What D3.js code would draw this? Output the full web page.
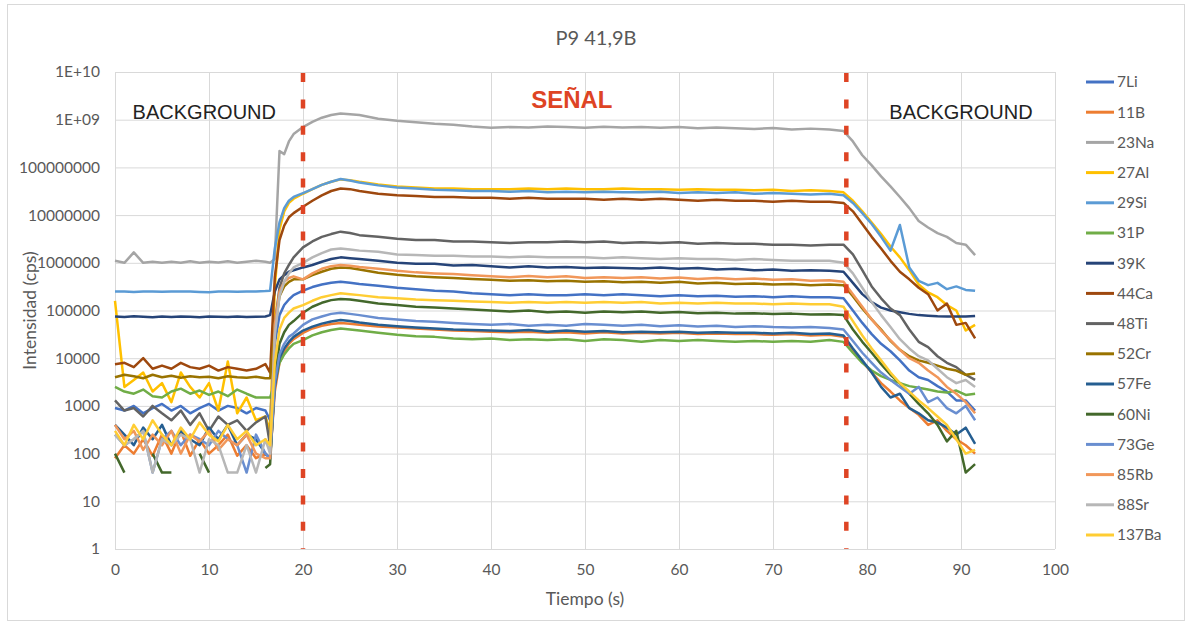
<!DOCTYPE html>
<html>
<head>
<meta charset="utf-8">
<script src="https://cdn.jsdelivr.net/npm/d3@7/dist/d3.min.js"></script>
<style>
  body { margin: 0; background: #fff; }
  svg { display: block; }
</style>
</head>
<body>
<svg id="chart" width="1192" height="627"></svg>
<script>
// time axis (s) shared by all series
const times = [0,1,2,3,4,5,6,7,8,9,10,11,12,13,14,15,16,16.5,17,17.5,18,18.5,19,20,21,22,23,24,25,26,
  28,30,32,34,36,38,40,42,44,46,48,50,52,54,56,58,60,62,64,66,68,70,72,74,76,
  77.5,78.5,79.5,80.5,81.5,82.5,83.5,84.5,85.5,86.5,87.5,88.5,89.5,90.5,91.5];

// intensities (cps), one array per isotope
const li7 = [900,800,1000,700,900,1100,800,1000,700,900,1100,800,1000,900,700,900,800,
  500,2e4,8e4,1.3e5,1.7e5,2.1e5,
  2.6e5,3.1e5,3.5e5,3.8e5,4e5,3.8e5,3.6e5,
  3.3e5,3e5,2.8e5,2.6e5,2.5e5,2.3e5,2.2e5,2.1e5,2.2e5,2.1e5,2.1e5,2.2e5,2.1e5,2.2e5,2.1e5,2e5,2.1e5,2e5,2.05e5,1.95e5,2e5,1.9e5,2e5,1.9e5,1.9e5,
  1.8e5,1e5,5.5e4,3.2e4,2e4,1.4e4,9000,5500,4000,3500,2600,2000,1300,1300,800];
const b11 = [80,150,100,200,90,250,100,300,90,200,100,150,250,90,150,80,100,
  80,2000,8000,1.4e4,2e4,2.5e4,
  3.4e4,4.2e4,4.8e4,5.2e4,5.5e4,5.3e4,5e4,
  4.6e4,4.4e4,4.2e4,4e4,3.8e4,3.7e4,3.6e4,3.5e4,3.6e4,3.4e4,3.5e4,3.3e4,3.5e4,3.3e4,3.4e4,3.3e4,3.4e4,3.2e4,3.3e4,3.2e4,3.2e4,3.1e4,3.2e4,3e4,3.1e4,
  2.8e4,1.5e4,8500,5000,3000,2000,1300,900,650,400,500,300,200,150,100];
const na23 = [1.1e6,1.0e6,1.65e6,1.0e6,1.05e6,1.0e6,1.05e6,1.0e6,1.08e6,1.0e6,1.05e6,1.02e6,1.08e6,1.0e6,1.05e6,1.1e6,1.05e6,
  1.0e6,1.2e6,2.2e8,1.9e8,3.5e8,5e8,
  7e8,9e8,1.1e9,1.25e9,1.35e9,1.3e9,1.25e9,
  1.05e9,9.5e8,8.8e8,8.2e8,7.8e8,7.2e8,6.8e8,7e8,6.9e8,7.2e8,7e8,6.8e8,7.1e8,6.9e8,7e8,6.8e8,7e8,6.6e8,6.9e8,6.6e8,6.4e8,6.7e8,6.2e8,6.5e8,6.2e8,
  5.8e8,3.5e8,1.8e8,1.1e8,6.5e7,4e7,2.4e7,1.4e7,7.5e6,5.5e6,4.2e6,3.5e6,2.6e6,2.4e6,1.45e6];
const al27 = [1.6e5,2500,3500,5000,2000,3000,1200,5000,2500,1500,3000,800,8500,700,1500,500,600,
  300,3e5,5e6,1.2e7,1.8e7,2.2e7,
  2.8e7,3.5e7,4.3e7,5e7,5.6e7,5.4e7,5e7,
  4.4e7,4e7,3.8e7,3.6e7,3.6e7,3.5e7,3.5e7,3.5e7,3.6e7,3.5e7,3.6e7,3.5e7,3.5e7,3.6e7,3.5e7,3.5e7,3.4e7,3.5e7,3.4e7,3.4e7,3.3e7,3.4e7,3.2e7,3.3e7,3.2e7,
  3e7,2e7,1.2e7,7e6,4e6,2.2e6,1.3e6,7e5,3.5e5,2.4e5,1.9e5,1.3e5,1e5,3.8e4,5e4];
const si29 = [2.5e5,2.5e5,2.45e5,2.5e5,2.5e5,2.48e5,2.5e5,2.5e5,2.5e5,2.45e5,2.4e5,2.5e5,2.5e5,2.48e5,2.5e5,2.5e5,2.55e5,
  2.6e5,2e6,7e6,1.4e7,2e7,2.4e7,
  2.9e7,3.5e7,4.3e7,5e7,5.7e7,5.3e7,4.8e7,
  4.2e7,3.8e7,3.6e7,3.4e7,3.3e7,3.2e7,3.2e7,3.1e7,3.2e7,3e7,3.1e7,3e7,3.1e7,3e7,3e7,3.1e7,2.9e7,3e7,2.9e7,3e7,2.8e7,2.9e7,2.8e7,2.7e7,2.8e7,
  2.6e7,1.8e7,1.1e7,6.5e6,3.5e6,1.8e6,6.2e6,8e5,4.2e5,3.4e5,3.8e5,2.8e5,3.2e5,2.7e5,2.6e5];
const p31 = [2500,2000,1800,2200,1600,1500,2000,2300,1800,2100,1700,2000,1600,2200,1800,1500,1500,
  1500,3000,8000,1.2e4,1.6e4,2e4,
  2.4e4,3e4,3.5e4,3.9e4,4.2e4,4e4,3.8e4,
  3.4e4,3.1e4,2.9e4,2.8e4,2.6e4,2.5e4,2.6e4,2.4e4,2.5e4,2.4e4,2.5e4,2.3e4,2.5e4,2.4e4,2.2e4,2.4e4,2.3e4,2.4e4,2.3e4,2.2e4,2.3e4,2.2e4,2.3e4,2.2e4,2.4e4,
  2.2e4,1.3e4,8000,5500,4200,3500,3000,2600,2400,2200,2000,1900,2100,1700,1800];
const k39 = [7.5e4,7.3e4,7.6e4,7.4e4,7.2e4,7.5e4,7.3e4,7.5e4,7.4e4,7.2e4,7.5e4,7.4e4,7.3e4,7.5e4,7.3e4,7.4e4,7.5e4,
  8e4,2.5e5,4.5e5,5.5e5,6.5e5,7e5,
  8e5,9e5,1.05e6,1.2e6,1.3e6,1.25e6,1.2e6,
  1.1e6,1e6,9.5e5,9.5e5,8.8e5,9e5,8.5e5,8e5,8.5e5,8e5,8.2e5,7.8e5,8e5,7.8e5,7.6e5,8e5,7.5e5,7.8e5,7.2e5,7.5e5,7e5,7.2e5,6.8e5,7e5,6.8e5,
  6.5e5,3.8e5,2.2e5,1.5e5,1.15e5,1e5,9.2e4,8.5e4,8e4,7.8e4,7.6e4,7.5e4,7.5e4,7.5e4,7.7e4];
const ca44 = [7500,8000,6500,1e4,6000,7000,6000,8000,6500,6000,7000,5500,6500,6000,5500,6000,7500,
  5000,5e5,3e6,6e6,9e6,1.1e7,
  1.5e7,2e7,2.6e7,3.2e7,3.6e7,3.5e7,3.2e7,
  2.8e7,2.6e7,2.5e7,2.4e7,2.4e7,2.3e7,2.3e7,2.2e7,2.3e7,2.2e7,2.2e7,2.2e7,2.1e7,2.2e7,2.1e7,2.2e7,2.1e7,2e7,2.1e7,2e7,2e7,1.9e7,2e7,1.9e7,1.9e7,
  1.8e7,1.2e7,6.5e6,3.5e6,2e6,1.1e6,6.5e5,4.5e5,3e5,2.2e5,1e5,1.4e5,5e4,5.5e4,2.6e4];
const ti48 = [1300,800,900,600,1000,700,500,800,400,700,300,600,400,500,300,450,600,
  150,5e4,3e5,6e5,9e5,1.3e6,
  2.1e6,2.8e6,3.5e6,4e6,4.5e6,4.2e6,3.8e6,
  3.5e6,3.2e6,3e6,3e6,2.8e6,2.8e6,2.7e6,2.6e6,2.7e6,2.7e6,2.8e6,2.7e6,2.8e6,2.6e6,2.7e6,2.6e6,2.7e6,2.5e6,2.6e6,2.5e6,2.5e6,2.4e6,2.4e6,2.3e6,2.4e6,
  2.4e6,1.5e6,7e5,3.2e5,1.8e5,1.1e5,8e4,4e4,2.2e4,1.7e4,1.1e4,8000,6500,4500,3500];
const cr52 = [4000,4500,4200,3800,4500,4000,4300,3900,4200,4000,4100,3800,4200,4000,3900,4100,3800,
  3800,4e4,2e5,3.2e5,4e5,4.5e5,
  4.5e5,5.5e5,6.5e5,7.5e5,8e5,7.8e5,7.2e5,
  6.2e5,5.6e5,5.2e5,5e5,4.8e5,4.6e5,4.4e5,4.2e5,4.3e5,4.1e5,4.2e5,4e5,4.1e5,3.9e5,4e5,3.8e5,4e5,3.7e5,3.8e5,3.6e5,3.7e5,3.5e5,3.6e5,3.4e5,3.5e5,
  3.4e5,2e5,1.1e5,6.5e4,4e4,2.3e4,1.5e4,1.1e4,9000,8000,7000,6000,5500,4500,4800];
const fe57 = [400,250,150,350,200,400,150,300,200,150,350,200,400,150,250,200,100,
  80,2500,1e4,1.6e4,2.2e4,2.8e4,
  3.8e4,4.6e4,5.3e4,5.9e4,6.3e4,6e4,5.6e4,
  5e4,4.7e4,4.4e4,4.2e4,4e4,3.9e4,3.8e4,3.7e4,3.9e4,3.6e4,3.8e4,3.6e4,3.7e4,3.5e4,3.6e4,3.5e4,3.6e4,3.4e4,3.5e4,3.4e4,3.4e4,3.3e4,3.4e4,3.2e4,3.3e4,
  3e4,1.6e4,9000,5000,2500,1500,1800,900,700,500,450,350,250,350,160];
const ni60 = [100,40,null,null,100,40,40,null,null,100,40,null,null,null,null,null,50,
  60,4000,2e4,3.5e4,5e4,6e4,
  9e4,1.2e5,1.45e5,1.65e5,1.75e5,1.7e5,1.6e5,
  1.4e5,1.3e5,1.2e5,1.15e5,1.1e5,1.05e5,1e5,9.5e4,1e5,9.2e4,9.5e4,9e4,9.5e4,9.2e4,9.5e4,9e4,9.3e4,8.8e4,9e4,8.6e4,8.8e4,8.4e4,8.6e4,8.2e4,8.3e4,
  8e4,4e4,2.2e4,1.3e4,7500,4500,3000,1800,1100,700,400,180,300,40,60];
const ge73 = [250,150,200,300,40,200,300,150,250,200,150,300,200,150,40,250,100,
  80,3000,1.2e4,2e4,2.8e4,3.3e4,
  5e4,6.5e4,7.5e4,8.5e4,9e4,8.5e4,8e4,
  7e4,6.5e4,6e4,5.8e4,5.5e4,5.2e4,5e4,5.2e4,4.8e4,5e4,4.8e4,5.2e4,5e4,4.8e4,5e4,4.7e4,4.9e4,4.6e4,4.8e4,4.5e4,4.7e4,4.5e4,4.4e4,4.5e4,4.3e4,
  4e4,2.3e4,1.3e4,8000,5000,3500,2500,1800,2500,1200,1500,900,700,1000,500];
const rb85 = [400,200,300,120,250,150,300,100,250,180,300,120,200,150,250,100,80,
  80,5e4,2.5e5,4e5,4.8e5,5.2e5,
  4.5e5,6e5,7.5e5,8.5e5,9e5,8.7e5,8.2e5,
  7.5e5,6.8e5,6.3e5,6e5,5.8e5,5.5e5,5.2e5,5e5,5.3e5,5e5,5.2e5,4.8e5,5e5,4.8e5,5e5,4.7e5,4.9e5,4.6e5,4.8e5,4.5e5,4.7e5,4.4e5,4.5e5,4.2e5,4.3e5,
  4e5,2.2e5,1.2e5,6.5e4,3.8e4,2.4e4,1.5e4,1e4,8000,5500,4000,2500,1800,1200,700];
const sr88 = [250,150,200,300,40,200,150,250,200,40,200,150,40,40,150,40,200,
  100,3e4,2e5,4e5,6e5,8e5,
  1e6,1.3e6,1.6e6,1.9e6,2e6,1.9e6,1.8e6,
  1.7e6,1.5e6,1.45e6,1.4e6,1.4e6,1.35e6,1.35e6,1.3e6,1.35e6,1.3e6,1.3e6,1.3e6,1.25e6,1.3e6,1.25e6,1.2e6,1.25e6,1.2e6,1.2e6,1.15e6,1.2e6,1.15e6,1.1e6,1.1e6,1.1e6,
  1e6,6e5,3e5,1.5e5,8e4,4.5e4,2.5e4,1.6e4,1.1e4,9000,6000,4000,3000,3500,2500];
const ba137 = [300,150,400,200,500,250,150,350,200,450,250,180,400,200,300,150,200,
  150,8000,4e4,7e4,9e4,1.1e5,
  1.3e5,1.6e5,1.9e5,2.1e5,2.3e5,2.2e5,2.1e5,
  1.9e5,1.8e5,1.7e5,1.65e5,1.6e5,1.55e5,1.5e5,1.45e5,1.5e5,1.45e5,1.5e5,1.45e5,1.5e5,1.45e5,1.5e5,1.4e5,1.45e5,1.4e5,1.45e5,1.4e5,1.4e5,1.35e5,1.4e5,1.35e5,1.35e5,
  1.2e5,6e4,3e4,1.6e4,9000,5000,3000,2000,1300,900,600,400,200,100,120];

const names = ["7Li","11B","23Na","27Al","29Si","31P","39K","44Ca","48Ti","52Cr","57Fe","60Ni","73Ge","85Rb","88Sr","137Ba"];
const values = [li7,b11,na23,al27,si29,p31,k39,ca44,ti48,cr52,fe57,ni60,ge73,rb85,sr88,ba137];

const xTicks = [0,10,20,30,40,50,60,70,80,90,100];
const yTicks = [1,10,100,1000,1e4,1e5,1e6,1e7,1e8,1e9,1e10];
const yTickLabels = ["1","10","100","1000","10000","100000","1000000","10000000","100000000","1E+09","1E+10"];
const markers = [20, 77.8]; // start / end of the signal window

// Excel palette
const colors = ["#4472C4","#ED7D31","#A5A5A5","#FFC000","#5B9BD5","#70AD47","#264478","#9E480E",
  "#636363","#997300","#255E91","#43682B","#698ED0","#F1975A","#B7B7B7","#FFCD33"];

let svg = d3.select("#chart");
const W = 1192, H = 627;
const pLeft = 115, pRight = 1055, pTop = 72, pBottom = 549;

svg.append("rect")
  .attr("x", 7.5).attr("y", 4.5).attr("width", W - 15).attr("height", H - 11)
  .attr("fill", "#fff").attr("stroke", "#d9d9d9");

let x = d3.scaleLinear().domain([0, 100]).range([pLeft, pRight]);
let y = d3.scaleLog().domain([1, 1e10]).range([pBottom, pTop]);

// grid
svg.append("g")
  .attr("transform", `translate(0,${pBottom})`)
  .call(d3.axisBottom(x).tickValues(xTicks).tickSize(-(pBottom - pTop)).tickFormat(""))
  .call(g => g.select(".domain").remove())
  .call(g => g.selectAll("line").attr("stroke", "#d9d9d9"));
svg.append("g")
  .attr("transform", `translate(${pLeft},0)`)
  .call(d3.axisLeft(y).tickValues(yTicks).tickSize(-(pRight - pLeft)).tickFormat(""))
  .call(g => g.select(".domain").remove())
  .call(g => g.selectAll("line").attr("stroke", "#d9d9d9"));

// tick labels
svg.append("g")
  .attr("transform", `translate(${pLeft},0)`)
  .call(d3.axisLeft(y).tickValues(yTicks).tickSize(0).tickPadding(15)
    .tickFormat((d, i) => yTickLabels[i]))
  .call(g => g.select(".domain").remove())
  .call(g => g.selectAll("text").attr("fill", "#595959")
    .style("font-family", "Lato, sans-serif").style("font-size", "15.5px"));
svg.append("g")
  .attr("transform", `translate(0,${pBottom})`)
  .call(d3.axisBottom(x).tickValues(xTicks).tickSize(0).tickPadding(15))
  .call(g => g.select(".domain").remove())
  .call(g => g.selectAll("text").attr("fill", "#595959")
    .style("font-family", "Lato, sans-serif").style("font-size", "15.5px"));

// series lines
let line = d3.line()
  .defined(d => d[1] != null && d[1] > 0)
  .x(d => x(d[0]))
  .y(d => y(d[1]));

svg.append("g")
  .selectAll("path")
  .data(values)
  .enter().append("path")
  .attr("d", v => line(times.map((t, i) => [t, v[i]])))
  .attr("fill", "none")
  .attr("stroke", (v, i) => colors[i])
  .attr("stroke-width", 2.5)
  .attr("stroke-linejoin", "round");

// signal window markers
svg.append("g")
  .selectAll("line")
  .data(markers)
  .enter().append("line")
  .attr("x1", d => x(d)).attr("x2", d => x(d))
  .attr("y1", pTop + 1).attr("y2", pBottom)
  .attr("stroke", "#DE4424")
  .attr("stroke-width", 4.5)
  .attr("stroke-dasharray", "9,17.4");

// annotations
const ann = svg.append("g").style("font-family", "'Liberation Sans', Arial, sans-serif");
ann.append("text").attr("x", x(9.5)).attr("y", y(1e9) - 1).attr("text-anchor", "middle")
  .attr("fill", "#222").style("font-size", "20px").text("BACKGROUND");
ann.append("text").attr("x", x(90)).attr("y", y(1e9) - 1).attr("text-anchor", "middle")
  .attr("fill", "#222").style("font-size", "20px").text("BACKGROUND");
ann.append("text").attr("x", x(48.6)).attr("y", 108).attr("text-anchor", "middle")
  .attr("fill", "#DE4424").style("font-size", "24px").style("font-weight", "bold").text("SEÑAL");

// titles
svg.append("text").attr("x", 596).attr("y", 45).attr("text-anchor", "middle")
  .attr("fill", "#595959").style("font-family", "Lato, sans-serif").style("font-size", "20px")
  .text("P9 41,9B");
svg.append("text").attr("x", x(50)).attr("y", 605).attr("text-anchor", "middle")
  .attr("fill", "#595959").style("font-family", "Lato, sans-serif").style("font-size", "17.5px")
  .text("Tiempo (s)");
svg.append("text").attr("transform", `translate(36,${(pTop + pBottom) / 2}) rotate(-90)`)
  .attr("text-anchor", "middle")
  .attr("fill", "#595959").style("font-family", "Lato, sans-serif").style("font-size", "17.5px")
  .text("Intensidad (cps)");

// legend
let legend = svg.append("g")
  .selectAll("g")
  .data(names)
  .enter().append("g")
  .attr("transform", (d, i) => `translate(1086,${82 + i * 30.2})`);
legend.append("line")
  .attr("x1", 0).attr("x2", 28)
  .attr("stroke", (d, i) => colors[i])
  .attr("stroke-width", 3);
legend.append("text")
  .attr("x", 31).attr("dy", "0.35em")
  .attr("fill", "#595959")
  .style("font-family", "Lato, sans-serif").style("font-size", "15.5px")
  .text(d => d);
</script>
</body>
</html>
